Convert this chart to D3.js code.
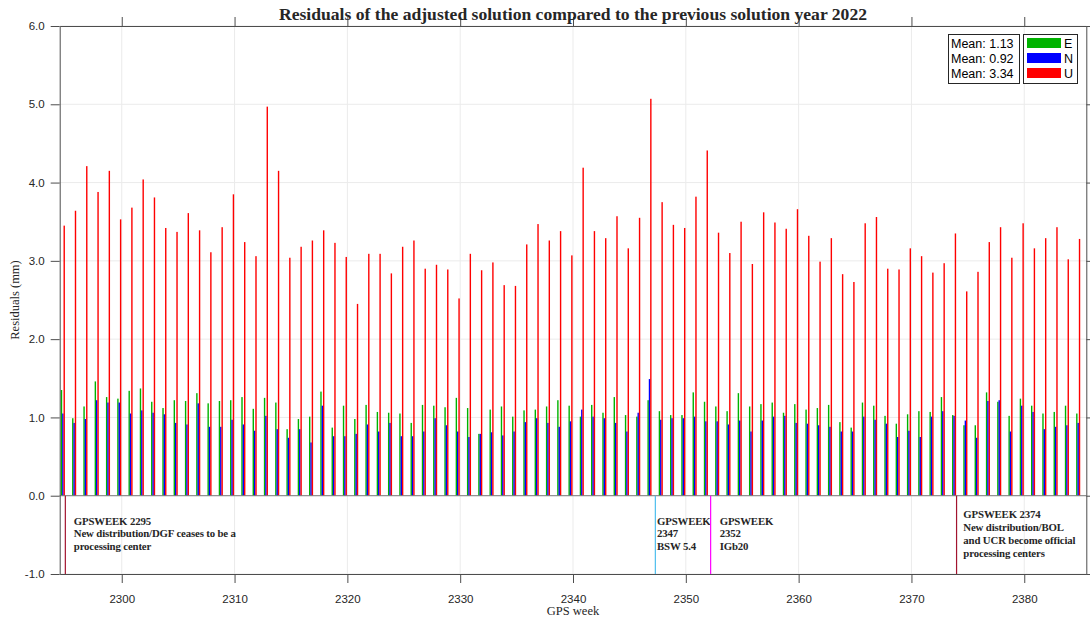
<!DOCTYPE html>
<html>
<head>
<meta charset="utf-8">
<script src="https://cdn.jsdelivr.net/npm/d3@7"></script>
<style>
  body { margin: 0; background: #fff; }
  svg { display: block; }
  .tick text { font-family: 'Liberation Sans', Arial, sans-serif; font-size: 11.5px; fill: #262626; }
  .serif { font-family: 'Liberation Serif', 'DejaVu Serif', serif; fill: #262626; }
</style>
</head>
<body>
<svg class="chart"></svg>
<script>
// weeks 2295 .. 2385
const weeks = d3.range(2295, 2386);

const eastValues = [
  1.35, 0.99, 1.14, 1.46, 1.26, 1.24, 1.34, 1.37, 1.20, 1.12, 1.22, 1.21, 1.31, 1.18, 1.21, 1.22,
  1.26, 1.11, 1.25, 1.19, 0.85, 0.98, 1.01, 1.33, 0.87, 1.15, 0.98, 1.16, 1.07, 1.06, 1.05,
  0.93, 1.16, 1.15, 1.13, 1.25, 1.12, 0.79, 1.10, 1.14, 1.01, 1.09, 1.10, 1.14, 1.22, 1.15, 1.01,
  1.16, 1.06, 1.26, 1.03, 1.01, 1.22, 1.08, 1.03, 1.03, 1.32, 1.20, 1.14, 1.08, 1.31, 1.14,
  1.17, 1.19, 1.06, 1.17, 1.10, 1.12, 1.16, 0.94, 0.87, 1.19, 1.15, 1.02, 0.92, 1.04, 1.08, 1.07,
  1.26, 1.03, 0.90, 0.90, 1.32, 1.20, 1.02, 1.24, 1.15, 1.05, 1.07, 1.15, 1.05,
];

const northValues = [
  1.05, 0.93, 0.98, 1.22, 1.19, 1.19, 1.05, 1.09, 1.06, 1.04, 0.93, 0.91, 1.18, 0.88, 0.88, 0.97,
  0.91, 0.83, 1.02, 0.85, 0.74, 0.85, 0.68, 1.15, 0.76, 0.76, 0.79, 0.91, 0.82, 0.93, 0.76,
  0.76, 0.82, 0.99, 0.90, 0.82, 0.75, 0.79, 0.81, 0.77, 0.82, 0.94, 0.99, 0.93, 0.88, 0.95, 1.10,
  1.01, 0.99, 0.93, 0.82, 1.06, 1.49, 0.97, 0.99, 0.99, 1.01, 0.95, 0.95, 0.91, 0.96, 0.82,
  0.96, 1.01, 1.02, 0.93, 0.92, 0.90, 0.88, 0.82, 0.82, 1.01, 0.97, 0.92, 0.75, 0.83, 0.75, 1.01,
  1.08, 1.02, 0.96, 0.74, 1.21, 1.22, 0.82, 1.15, 1.07, 0.85, 0.88, 0.90, 0.93,
];

const upValues = [
  3.45, 3.64, 4.21, 3.88, 4.15, 3.53, 3.68, 4.04, 3.81, 3.42, 3.37, 3.61, 3.39, 3.11, 3.43, 3.85,
  3.24, 3.06, 4.97, 4.15, 3.04, 3.18, 3.26, 3.39, 3.23, 3.05, 2.45, 3.09, 3.09, 2.84, 3.18,
  3.26, 2.90, 2.95, 2.89, 2.52, 3.09, 2.88, 2.98, 2.69, 2.68, 3.21, 3.47, 3.26, 3.38, 3.07, 4.19,
  3.38, 3.29, 3.57, 3.16, 3.55, 5.07, 3.75, 3.46, 3.42, 3.82, 4.41, 3.36, 3.10, 3.50, 2.96,
  3.62, 3.49, 3.41, 3.66, 3.32, 2.99, 3.29, 2.83, 2.73, 3.48, 3.56, 2.90, 2.89, 3.16, 3.06, 2.85,
  2.97, 3.35, 2.61, 2.86, 3.24, 3.43, 3.04, 3.48, 3.16, 3.29, 3.43, 3.02, 3.28,
];

const seriesNames = ['E', 'N', 'U'];
const seriesMeans = [1.13, 0.92, 3.34];

const xTicks = [2300, 2310, 2320, 2330, 2340, 2350, 2360, 2370, 2380];
const yTicks = [-1, 0, 1, 2, 3, 4, 5, 6];

// event markers
const eventWeeks = [2295, 2347.3, 2352.2, 2374];
const eventLabelWeeks = [2295.75, 2347.45, 2353, 2374.6];
const eventLabels = [
  ['GPSWEEK 2295', 'New distribution/DGF ceases to be a', 'processing center'],
  ['GPSWEEK', '2347', 'BSW 5.4'],
  ['GPSWEEK', '2352', 'IGb20'],
  ['GPSWEEK 2374', 'New distribution/BOL', 'and UCR become official', 'processing centers'],
];

const seriesColors = ['#00b300', '#0000ff', '#ff0000'];
const eventColors = ['#a2142f', '#4dbeee', '#ff00ff', '#a2142f'];

const width = 1090;
const height = 621;

const svg = d3.select('.chart')
  .attr('width', width)
  .attr('height', height);

const x = d3.scaleLinear().domain([2294.5, 2385.5]).range([59.7, 1086.3]);
const y = d3.scaleLinear().domain([-1, 6]).range([574, 26]);

// grid
svg.append('g').selectAll('line')
  .data(xTicks)
  .enter()
  .append('line')
  .attr('x1', d => x(d)).attr('x2', d => x(d))
  .attr('y1', y(6)).attr('y2', y(-1))
  .attr('stroke', '#ebebeb');

svg.append('g').selectAll('line')
  .data(yTicks)
  .enter()
  .append('line')
  .attr('x1', x.range()[0]).attr('x2', x.range()[1])
  .attr('y1', d => y(d)).attr('y2', d => y(d))
  .attr('stroke', '#ebebeb');

// bars
const barOffset = [-0.34, -0.22, -0.1];
const barW = 1.4;
const allSeries = [eastValues, northValues, upValues];

allSeries.forEach((values, si) => {
  svg.append('g').selectAll('rect')
    .data(values)
    .enter()
    .append('rect')
    .attr('x', (d, i) => x(weeks[i] + barOffset[si]) - barW / 2)
    .attr('width', barW)
    .attr('y', d => y(d))
    .attr('height', d => y(0) - y(d))
    .attr('fill', seriesColors[si]);
});

// baseline
svg.append('line')
  .attr('x1', x.range()[0]).attr('x2', x.range()[1])
  .attr('y1', y(0)).attr('y2', y(0))
  .attr('stroke', '#7a7a7a');

// event lines + labels
eventWeeks.forEach((w, i) => {
  svg.append('line')
    .attr('x1', x(w)).attr('x2', x(w))
    .attr('y1', y(0)).attr('y2', y(-1))
    .attr('stroke', eventColors[i])
    .attr('stroke-width', 1.2);

  const lines = eventLabels[i];
  const lh = 12.8;
  const txt = svg.append('text')
    .attr('class', 'serif')
    .attr('font-weight', 'bold')
    .attr('font-size', '10.8px')
    .attr('letter-spacing', '-0.15px')
    .attr('fill', '#111');
  lines.forEach((line, j) => {
    txt.append('tspan')
      .attr('x', x(eventLabelWeeks[i]))
      .attr('y', y(-0.5) + 2.5 + (j - (lines.length - 1) / 2) * lh)
      .text(line);
  });
});

// axes
const axisColor = '#4d4d4d';
const yFmt = v => v.toFixed(1);

svg.append('g')
  .attr('transform', `translate(0,${y(-1)})`)
  .call(d3.axisBottom(x).tickValues(xTicks).tickFormat(d3.format('d')).tickSizeInner(9).tickSizeOuter(0).tickPadding(12));

svg.append('g')
  .attr('transform', `translate(0,${y(6)})`)
  .call(d3.axisTop(x).tickValues(xTicks).tickFormat('').tickSizeInner(9).tickSizeOuter(0));

svg.append('g')
  .attr('transform', `translate(${x.range()[0]},0)`)
  .call(d3.axisLeft(y).tickValues(yTicks).tickFormat(yFmt).tickSizeInner(9).tickSizeOuter(0).tickPadding(6));

svg.append('g')
  .attr('transform', `translate(${x.range()[1]},0)`)
  .call(d3.axisRight(y).tickValues(yTicks).tickFormat('').tickSizeInner(9).tickSizeOuter(0));

svg.selectAll('.domain, .tick line').attr('stroke', axisColor);

// title + labels
svg.append('text')
  .attr('class', 'serif')
  .attr('x', 573)
  .attr('y', 20)
  .attr('text-anchor', 'middle')
  .attr('font-weight', 'bold')
  .attr('font-size', '17.6px')
  .attr('fill', '#000')
  .text('Residuals of the adjusted solution compared to the previous solution year 2022');

svg.append('text')
  .attr('class', 'serif')
  .attr('x', 573)
  .attr('y', 615)
  .attr('text-anchor', 'middle')
  .attr('font-size', '12.5px')
  .text('GPS week');

svg.append('text')
  .attr('class', 'serif')
  .attr('transform', `translate(19,${y(2.5)}) rotate(-90)`)
  .attr('text-anchor', 'middle')
  .attr('font-size', '12.5px')
  .text('Residuals (mm)');

// legend: means box
const legend = svg.append('g').attr('font-family', "'Liberation Sans', Arial, sans-serif").attr('font-size', '12.5px');

legend.append('rect')
  .attr('x', 948.5).attr('y', 34.5)
  .attr('width', 71).attr('height', 49)
  .attr('fill', '#fff').attr('stroke', '#262626');

legend.append('rect')
  .attr('x', 1023.5).attr('y', 34.5)
  .attr('width', 54).attr('height', 49)
  .attr('fill', '#fff').attr('stroke', '#262626');

seriesNames.forEach((name, i) => {
  const cy = 43 + i * 15;
  legend.append('text')
    .attr('x', 951)
    .attr('y', cy + 4.5)
    .attr('fill', '#000')
    .text(`Mean: ${seriesMeans[i].toFixed(2)}`);
  legend.append('rect')
    .attr('x', 1027).attr('y', cy - 5)
    .attr('width', 34).attr('height', 10)
    .attr('fill', seriesColors[i]);
  legend.append('text')
    .attr('x', 1064)
    .attr('y', cy + 4.5)
    .attr('fill', '#000')
    .text(name);
});
</script>
</body>
</html>
